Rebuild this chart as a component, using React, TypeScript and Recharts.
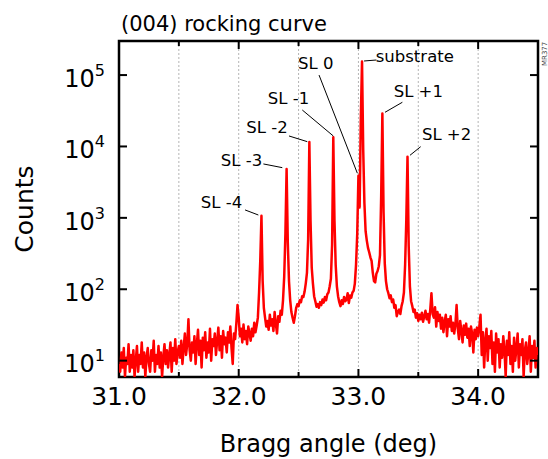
import React from 'react';
import {
  LineChart,
  Line,
  XAxis,
  YAxis,
  CartesianGrid,
  ReferenceLine,
  ReferenceDot,
  ReferenceArea,
  Label,
} from 'recharts';

const FONT = '"DejaVu Sans", "Liberation Sans", Arial, sans-serif';

// Sampling step of the scan (deg)
const ANGLE_STEP = 0.01;

// Counts, 31.00 - 31.99 deg
const countsBackgroundLow = [
  9, 7, 13, 8, 15, 6, 11, 9, 17, 7,
  12, 8, 14, 6, 10, 16, 7, 12, 9, 18,
  8, 13, 6, 11, 15, 9, 7, 14, 10, 19,
  7, 12, 9, 16, 8, 13, 6, 11, 17, 9,
  14, 8, 12, 18, 7, 15, 10, 20, 9, 13,
  16, 11, 19, 9, 15, 24, 12, 17, 38, 14,
  10, 18, 13, 22, 9, 17, 27, 12, 19, 8,
  21, 14, 25, 11, 18, 13, 28, 10, 20, 16,
  24, 12, 19, 29, 14, 22, 11, 26, 17, 21,
  13, 25, 18, 30, 15, 9, 24, 20, 33, 60,
];

// Counts, 32.00 - 33.49 deg (superlattice satellites and substrate)
const countsSuperlattice = [
  40, 22, 28, 18, 32, 20, 26, 17, 30, 24,
  19, 28, 22, 34, 25, 31, 40, 90, 250, 1070,
  130, 55, 40, 30, 36, 27, 44, 31, 38, 26,
  48, 33, 24, 42, 35, 50, 44, 70, 150, 600,
  4840, 450, 130, 70, 48, 40, 34, 42, 55, 62,
  58, 70, 66, 80, 78, 92, 120, 170, 500, 11500,
  900, 200, 120, 80, 68, 57, 62, 55, 66, 60,
  72, 65, 78, 70, 85, 90, 110, 140, 420, 13500,
  900, 220, 110, 80, 66, 58, 70, 62, 78, 68,
  72, 88, 64, 82, 76, 90, 95, 120, 220, 600,
  3900, 1400, 25000, 155000, 9000, 1600, 650, 480, 380, 330,
  280, 250, 170, 130, 125, 165, 180, 210, 300, 2000,
  28900, 1200, 230, 130, 100, 88, 75, 82, 66, 72,
  55, 60, 42, 48, 52, 45, 58, 68, 90, 220,
  950, 7200, 400, 110, 68, 58, 48, 52, 40, 46,
];

// Counts, 33.50 - 34.50 deg
const countsBackgroundHigh = [
  36, 44, 38, 47, 35, 42, 50, 38, 45, 34,
  52, 88, 45, 40, 56, 30, 48, 36, 44, 28,
  40, 25, 35, 44, 22, 38, 30, 42, 26, 34,
  24, 32, 60, 28, 20, 36, 26, 18, 31, 23,
  33, 21, 28, 16, 30, 24, 13, 27, 20, 29,
  22, 30, 44, 12, 25, 8, 19, 28, 10, 22,
  15, 26, 9, 18, 7, 24, 13, 20, 8, 17,
  11, 22, 14, 6, 19, 12, 25, 9, 16, 7,
  21, 10, 15, 24, 8, 17, 12, 20, 6, 14,
  18, 9, 13, 22, 7, 16, 11, 19, 8, 15,
  12,
];

const segments = [
  { start: 31.0, values: countsBackgroundLow },
  { start: 32.0, values: countsSuperlattice },
  { start: 33.5, values: countsBackgroundHigh },
];

const data = segments.flatMap((s) =>
  s.values.map((v, i) => ({
    angle: Math.round((s.start + i * ANGLE_STEP) * 100) / 100,
    counts: v,
  }))
);

const xTicks = [31, 31.5, 32, 32.5, 33, 33.5, 34, 34.5];
const yTicks = [10, 100, 1000, 10000, 100000];
const X_DOMAIN: [number, number] = [31, 34.5];
const Y_DOMAIN: [number, number] = [5.9, 3.0e5];

// Peak annotations: label centre and leader line (data coordinates)
const peakLabels = [
  { text: 'SL -4', at: [31.856, 1687], from: [32.053, 1291], to: [32.164, 1096] },
  { text: 'SL -3', at: [32.023, 6470], from: [32.206, 5690], to: [32.364, 5050] },
  { text: 'SL -2', at: [32.236, 18920], from: [32.42, 14030], to: [32.573, 11670] },
  { text: 'SL -1', at: [32.416, 47300], from: [32.531, 32400], to: [32.79, 14030] },
  { text: 'SL 0', at: [32.643, 146200], from: [32.671, 100000], to: [32.991, 4220] },
  { text: 'substrate', at: [33.471, 185500], from: [33.047, 157400], to: [33.15, 162500] },
  { text: 'SL +1', at: [33.5, 60500], from: [33.367, 41600], to: [33.222, 30100] },
  { text: 'SL +2', at: [33.736, 14830], from: [33.52, 9930], to: [33.431, 7530] },
];

const isMajor = (v: number) => Math.abs(v - Math.round(v)) < 1e-6;
const isInner = (v: number) => v > X_DOMAIN[0] + 1e-6 && v < X_DOMAIN[1] - 1e-6;

const BottomTick = (props: any) => {
  const { x, y, payload } = props;
  const v = payload.value as number;
  const major = isMajor(v);
  return (
    <g>
      {isInner(v) && (
        <line x1={x} x2={x} y1={y} y2={y - (major ? 8 : 5)} stroke="#000" strokeWidth={2} />
      )}
      {major && (
        <text x={x} y={y + 28} textAnchor="middle" fontSize={25} fontFamily={FONT} fill="#000">
          {v.toFixed(1)}
        </text>
      )}
    </g>
  );
};

const TopTick = (props: any) => {
  const { x, y, payload } = props;
  const v = payload.value as number;
  if (!isInner(v)) return <g />;
  return <line x1={x} x2={x} y1={y} y2={y + (isMajor(v) ? 8 : 5)} stroke="#000" strokeWidth={2} />;
};

const LeftTick = (props: any) => {
  const { x, y, payload } = props;
  const exp = Math.round(Math.log10(payload.value));
  return (
    <g>
      <line x1={x} x2={x + 8} y1={y} y2={y} stroke="#000" strokeWidth={2} />
      <text x={x - 14} y={y + 11.7} textAnchor="end" fontFamily={FONT} fill="#000">
        <tspan fontSize={24}>10</tspan>
        <tspan fontSize={16} dy={-11}>
          {exp}
        </tspan>
      </text>
    </g>
  );
};

const RightTick = (props: any) => {
  const { x, y } = props;
  return <line x1={x} x2={x - 8} y1={y} y2={y} stroke="#000" strokeWidth={2} />;
};

const XTitle = (props: any) => {
  const vb = props.viewBox ?? { x: 119, y: 377, width: 419, height: 82 };
  return (
    <text x={vb.x + vb.width / 2} y={vb.y + 75} textAnchor="middle" fontSize={24} fontFamily={FONT} fill="#000">
      Bragg angle (deg)
    </text>
  );
};

const YTitle = (props: any) => {
  const vb = props.viewBox ?? { x: 0, y: 41, width: 119, height: 336 };
  const cx = vb.x + 33;
  const cy = vb.y + vb.height / 2;
  return (
    <text
      x={cx}
      y={cy}
      transform={`rotate(-90 ${cx} ${cy})`}
      textAnchor="middle"
      fontSize={25}
      fontFamily={FONT}
      fill="#000"
    >
      Counts
    </text>
  );
};

export default function App() {
  return (
    <div style={{ position: 'absolute', left: 0, top: 0, width: 548, height: 459, background: '#fff' }}>
      <LineChart width={548} height={459} data={data} margin={{ top: 0, right: 0, bottom: 0, left: 0 }}>
        <CartesianGrid
          xAxisId="b"
          yAxisId="l"
          horizontal={false}
          stroke="#b4b4b4"
          strokeDasharray="2 2"
          strokeWidth={1}
        />
        <XAxis
          xAxisId="b"
          dataKey="angle"
          type="number"
          domain={X_DOMAIN}
          allowDataOverflow
          ticks={xTicks}
          interval={0}
          height={82}
          tickSize={0}
          tickMargin={0}
          tickLine={false}
          axisLine={false}
          tick={<BottomTick />}
        >
          <Label content={XTitle} position="insideBottom" />
        </XAxis>
        <XAxis
          xAxisId="t"
          orientation="top"
          dataKey="angle"
          type="number"
          domain={X_DOMAIN}
          allowDataOverflow
          ticks={xTicks}
          interval={0}
          height={41}
          tickSize={0}
          tickMargin={0}
          tickLine={false}
          axisLine={false}
          tick={<TopTick />}
        />
        <YAxis
          yAxisId="l"
          type="number"
          scale="log"
          domain={Y_DOMAIN}
          allowDataOverflow
          ticks={yTicks}
          interval={0}
          width={119}
          tickSize={0}
          tickMargin={0}
          tickLine={false}
          axisLine={false}
          tick={<LeftTick />}
        >
          <Label content={YTitle} position="insideLeft" />
        </YAxis>
        <YAxis
          yAxisId="r"
          orientation="right"
          type="number"
          scale="log"
          domain={Y_DOMAIN}
          allowDataOverflow
          ticks={yTicks}
          interval={0}
          width={10}
          tickSize={0}
          tickMargin={0}
          tickLine={false}
          axisLine={false}
          tick={<RightTick />}
        />
        <Line
          xAxisId="b"
          yAxisId="l"
          type="linear"
          dataKey="counts"
          stroke="#ff0000"
          strokeWidth={2.5}
          strokeLinejoin="round"
          dot={false}
          activeDot={false}
          isAnimationActive={false}
        />
        {peakLabels.map((p) => (
          <ReferenceLine
            key={`l-${p.text}`}
            xAxisId="b"
            yAxisId="l"
            ifOverflow="visible"
            segment={[
              { x: p.from[0], y: p.from[1] },
              { x: p.to[0], y: p.to[1] },
            ]}
            stroke="#000"
            strokeWidth={1}
          />
        ))}
        {peakLabels.map((p) => (
          <ReferenceDot
            key={`t-${p.text}`}
            xAxisId="b"
            yAxisId="l"
            ifOverflow="visible"
            x={p.at[0]}
            y={p.at[1]}
            r={0}
            shape={(s: any) => (
              <text
                x={s.cx}
                y={s.cy}
                dy="0.36em"
                textAnchor="middle"
                fontSize={16.5}
                fontFamily={FONT}
                fill="#000"
              >
                {p.text}
              </text>
            )}
          />
        ))}
        <ReferenceArea
          xAxisId="b"
          yAxisId="l"
          x1={X_DOMAIN[0]}
          x2={X_DOMAIN[1]}
          y1={Y_DOMAIN[0]}
          y2={Y_DOMAIN[1]}
          ifOverflow="visible"
          fill="none"
          fillOpacity={0}
          stroke="#000"
          strokeWidth={2.5}
          strokeOpacity={1}
        />
      </LineChart>
      <svg
        width={548}
        height={459}
        style={{ position: 'absolute', left: 0, top: 0, pointerEvents: 'none' }}
      >
        <text x={121} y={31} fontSize={21} fontFamily={FONT} fill="#000">
          (004) rocking curve
        </text>
        <text
          x={547}
          y={66}
          transform="rotate(-90 547 66)"
          fontSize={7}
          fontFamily={FONT}
          fill="#444"
        >
          MR377
        </text>
      </svg>
    </div>
  );
}
